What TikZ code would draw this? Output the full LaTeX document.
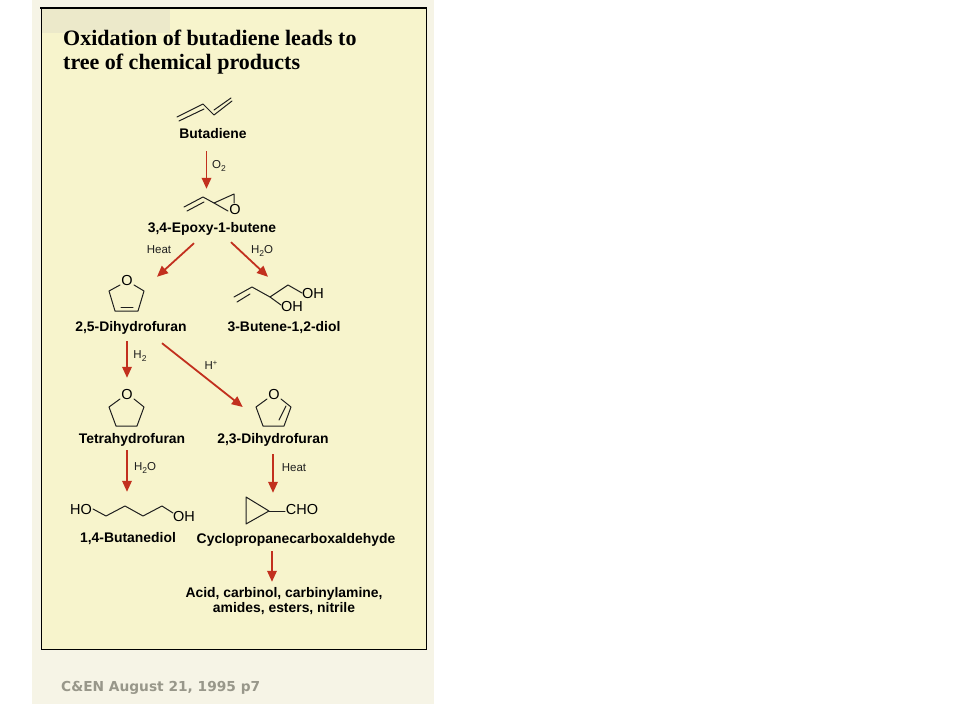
\documentclass[tikz,border=0pt]{standalone}
\usepackage{fontspec}
\setmainfont{Liberation Sans}
\newfontfamily\titlefont{Liberation Serif}
\newfontfamily\creditfont{DejaVu Sans}
\usetikzlibrary{arrows.meta}
\definecolor{pagepaper}{HTML}{F6F4E6}
\definecolor{boxyellow}{HTML}{F7F4CC}
\definecolor{patchtone}{HTML}{ECE9CA}
\definecolor{rxred}{HTML}{C2301E}
\definecolor{inkdark}{HTML}{1E1E1E}
\definecolor{creditgray}{HTML}{98978A}
\newcommand{\lowtwo}[1]{\raisebox{-2.4pt}{\fontsize{8.5}{8.5}\selectfont #1}}
\newcommand{\hightwo}[1]{\raisebox{4pt}{\fontsize{7.5}{7.5}\selectfont #1}}
\tikzset{
  rxarrow/.style={draw=rxred,line width=1.8pt,-{Triangle[length=11pt,width=9.5pt]}},
  bond/.style={draw=inkdark,line width=1pt,line cap=round,line join=round},
  compound/.style={inner sep=0pt,minimum height=14pt,yshift=-1pt,text=black,font=\fontsize{13.9}{15}\selectfont\bfseries},
  reagent/.style={inner sep=0pt,text=inkdark,font=\fontsize{11.5}{13}\selectfont},
  atomlabel/.style={inner sep=0pt,text=black,font=\fontsize{14.5}{16}\selectfont},
  mol/.style={inner sep=0pt,minimum width=#1},
}
\begin{document}
\begin{tikzpicture}[x=1pt,y=-1pt]
\useasboundingbox (0,0) rectangle (960,720);
\fill[white] (0,0) rectangle (960,720);
\fill[pagepaper] (32,0) rectangle (434,704);
\fill[boxyellow] (41,8) rectangle (426,649);
\fill[patchtone] (41,9) rectangle (170,33);
\draw[black,line width=1pt] (41,8) -- (41,649) -- (426,649) -- (426,8);
\draw[black,line width=2.6pt] (40,8) -- (427,8);

\node[anchor=base west,inner sep=0pt,font=\titlefont\bfseries\fontsize{22}{24}\selectfont] (titleA) at (63,45.5) {Oxidation of butadiene leads to};
\node[anchor=base west,inner sep=0pt,font=\titlefont\bfseries\fontsize{22}{24}\selectfont] (titleB) at (63,69) {tree of chemical products};

% invisible molecule frames
\node[mol=60pt,minimum height=20pt] (mBut) at (205,108) {};
\node[mol=60pt,minimum height=20pt] (mEpox) at (206.5,199) {};
\node[mol=44pt,minimum height=36pt] (mDHF) at (127,296) {};
\node[mol=80pt,minimum height=36pt] (mDiol) at (268,295) {};
\node[mol=44pt,minimum height=42pt] (mTHF) at (127,399) {};
\node[mol=48pt,minimum height=30pt] (mDD) at (267,407) {};
\node[mol=90pt,minimum height=36pt] (mBD) at (127,510) {};
\node[mol=80pt,minimum height=36pt] (mCP) at (273,511) {};

% compound names
\node[compound] (lblBut) at (213,133) {Butadiene};
\node[compound] (lblEpox) at (212,228) {3,4-Epoxy-1-butene};
\node[compound] (lblDHF) at (131,327) {2,5-Dihydrofuran};
\node[compound] (lblDiol) at (284,327) {3-Butene-1,2-diol};
\node[compound] (lblTHF) at (132,439) {Tetrahydrofuran};
\node[compound] (lblDD) at (273,439) {2,3-Dihydrofuran};
\node[compound] (lblBD) at (128,538) {1,4-Butanediol};
\node[compound] (lblCP) at (296,539) {Cyclopropanecarboxaldehyde};
\node[compound,align=center,minimum height=36pt] (lblAcid) at (284,600) {Acid, carbinol, carbinylamine,\\amides, esters, nitrile};

% butadiene
\draw[bond] (177,117) -- (203,104) -- (214,115) -- (232,101);
\draw[bond] (179,121) -- (204,109);
\draw[bond] (214,110) -- (231,98);

% epoxybutene
\draw[bond] (184,207) -- (203,197) -- (214,203) -- (234,194) -- (234,203);
\draw[bond] (187,211) -- (204,202);
\draw[bond] (214,203) -- (228,211);
\node[atomlabel] (oEpox) at (235,210) {O};

% 2,5-dihydrofuran
\node[atomlabel] (oDHF) at (127,281) {O};
\draw[bond] (120,285) -- (109,291) -- (115,311) -- (138,311) -- (144,291) -- (134,285);
\draw[bond] (121,307) -- (133,307);

% 3-butene-1,2-diol
\draw[bond] (234,297) -- (252,287) -- (270,297) -- (288,285) -- (302,293);
\draw[bond] (237,302) -- (250,294);
\draw[bond] (270,297) -- (281,305);
\node[atomlabel] (ohDiolA) at (313,294) {OH};
\node[atomlabel] (ohDiolB) at (292,307) {OH};

% tetrahydrofuran
\node[atomlabel] (oTHF) at (127,395) {O};
\draw[bond] (120,399) -- (109,407) -- (116,426) -- (137,426) -- (144,407) -- (134,399);

% 2,3-dihydrofuran
\node[atomlabel] (oDD) at (274,395) {O};
\draw[bond] (267,399) -- (256,407) -- (263,426) -- (284,426) -- (291,407) -- (281,399);
\draw[bond] (279,420) -- (286,406);

% 1,4-butanediol
\node[atomlabel] (hoBD) at (81,509) {HO};
\draw[bond] (93,509) -- (106,516) -- (125,506) -- (143,516) -- (162,506) -- (173,513);
\node[atomlabel] (ohBD) at (184,516) {OH};

% cyclopropanecarboxaldehyde
\draw[bond] (246,497) -- (246,524) -- (269,511) -- cycle;
\draw[bond] (269,511) -- (285,511);
\node[atomlabel] (cho) at (302,510) {CHO};

% reactions
\draw[rxarrow] ([xshift=-6.5pt,yshift=-10pt]lblBut.south) -- (mEpox.north);
\draw[rxarrow] ([xshift=-18pt,yshift=-7pt]lblEpox.south) -- ([xshift=30pt,yshift=1pt]mDHF.north);
\draw[rxarrow] ([xshift=19pt,yshift=-6pt]lblEpox.south) -- (mDiol.north);
\draw[rxarrow] ([xshift=-4pt,yshift=-6pt]lblDHF.south) -- (mTHF.north);
\draw[rxarrow] ([xshift=31pt,yshift=-8pt]lblDHF.south) -- (mDD.west);
\draw[rxarrow] ([xshift=-5pt,yshift=-3pt]lblTHF.south) -- (mBD.north);
\draw[rxarrow] ([yshift=-7pt]lblDD.south) -- (mCP.north);
\draw[rxarrow] ([xshift=-24pt,yshift=-4pt]lblCP.south) -- ([xshift=-12pt,yshift=1pt]lblAcid.north);

% reagents
\node[reagent] (rO) at (219,166) {O\lowtwo{2}};
\node[reagent] (rHeatA) at (159,250) {Heat};
\node[reagent] (rWaterA) at (262,251) {H\lowtwo{2}O};
\node[reagent] (rH) at (140,356) {H\lowtwo{2}};
\node[reagent] (rHplus) at (211,365) {H\hightwo{+}};
\node[reagent] (rWaterB) at (145,468) {H\lowtwo{2}O};
\node[reagent] (rHeatB) at (294,468) {Heat};

\node[anchor=west,inner sep=0pt,text=creditgray,font=\creditfont\bfseries\fontsize{13.75}{15}\selectfont] (credit) at (61,688) {C\&EN August 21, 1995 p7};
\end{tikzpicture}
\end{document}
